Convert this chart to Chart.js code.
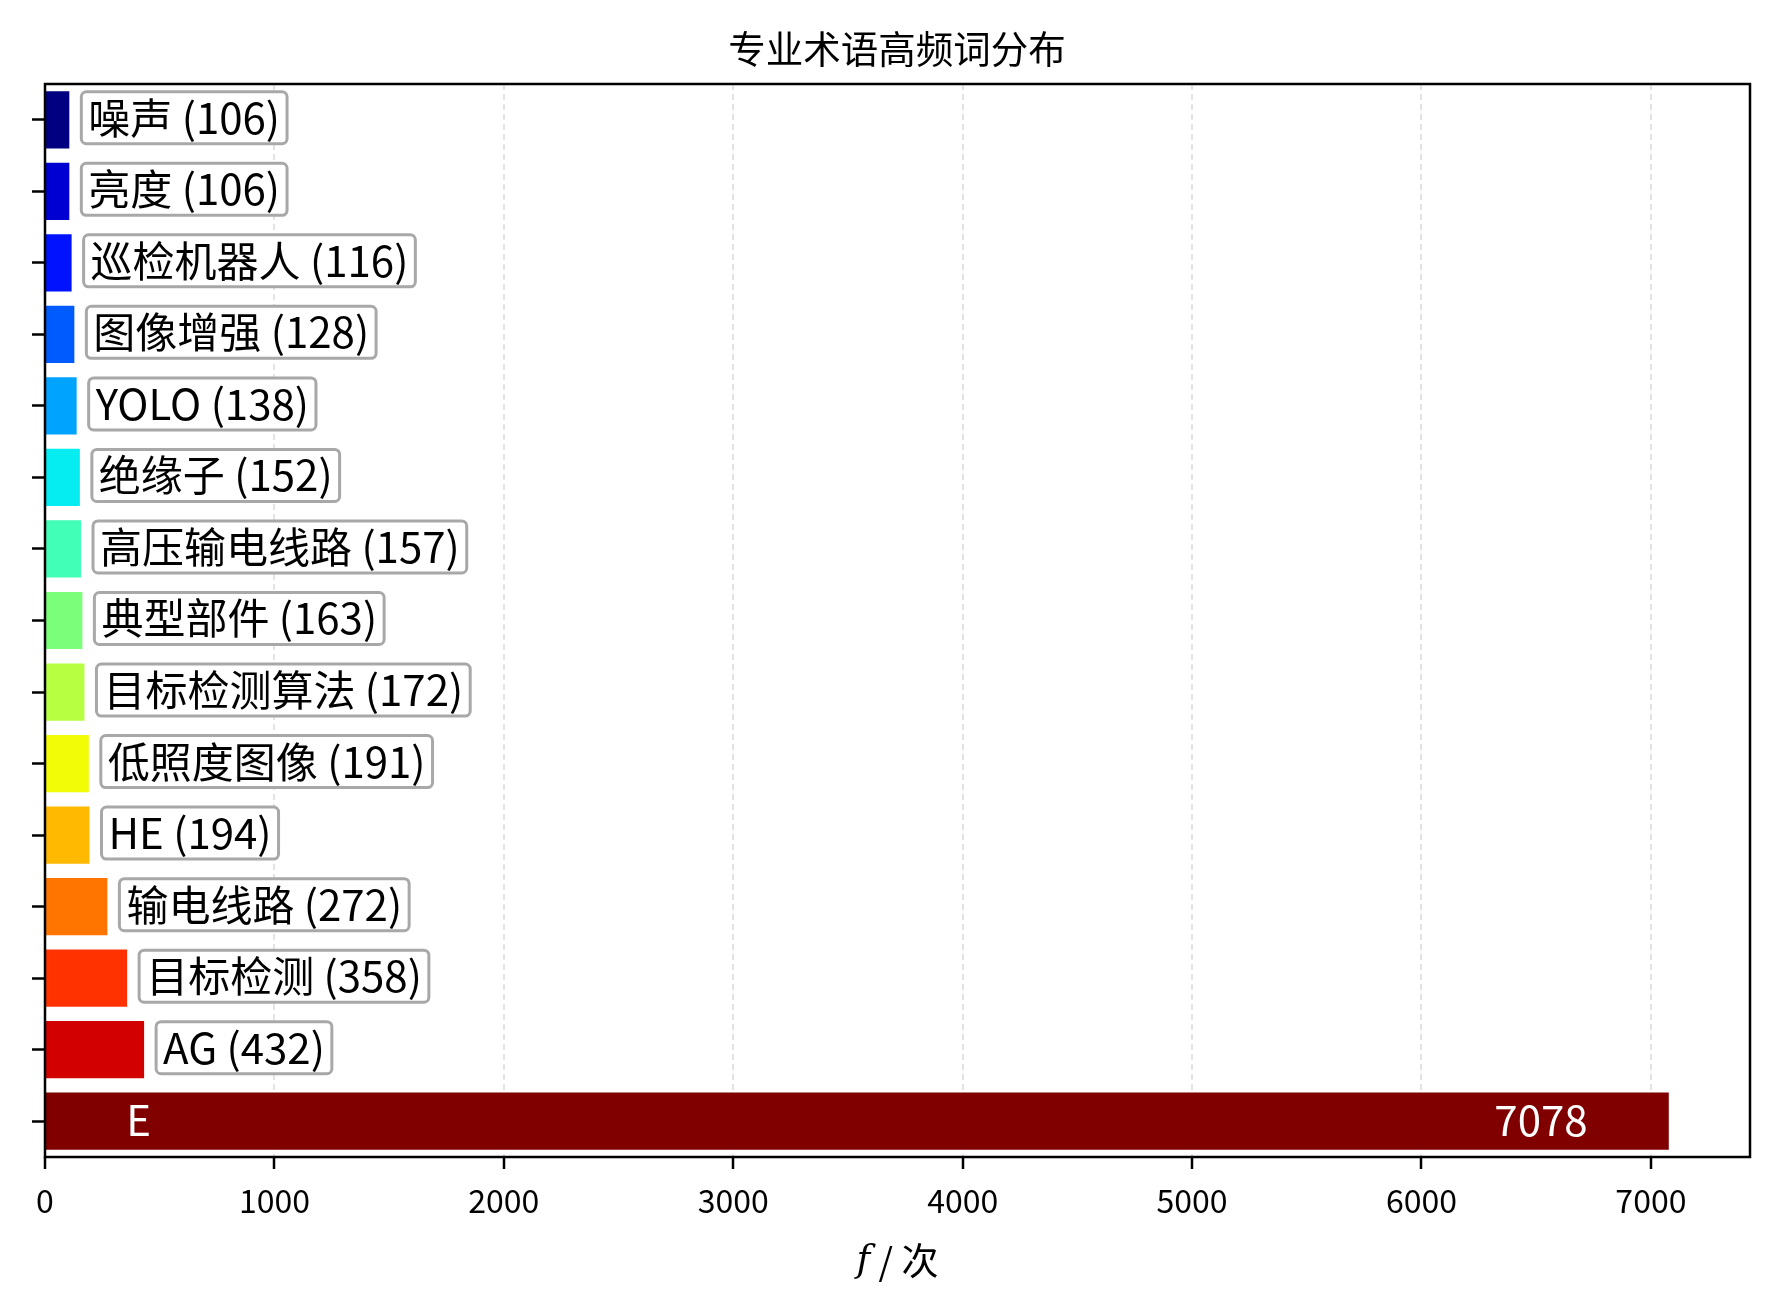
<!DOCTYPE html>
<html>
<head>
<meta charset="utf-8">
<script src="https://cdn.jsdelivr.net/npm/chart.js@4.4.0/dist/chart.umd.min.js"></script>
<style>
  html, body { margin: 0; padding: 0; background: #fff; }
</style>
</head>
<body>
<canvas id="termChart" width="1779" height="1312"></canvas>
<script>
// terms, top to bottom
const terms = ['噪声', '亮度', '巡检机器人', '图像增强', 'YOLO', '绝缘子', '高压输电线路', '典型部件',
               '目标检测算法', '低照度图像', 'HE', '输电线路', '目标检测', 'AG', 'E'];
const counts = [106, 106, 116, 128, 138, 152, 157, 163, 172, 191, 194, 272, 358, 432, 7078];
// jet colormap samples
const barColors = ['#000080', '#0000d2', '#0012ff', '#005bff', '#00a4ff', '#06edf1', '#41ffb6', '#7bff7b',
                   '#b6ff41', '#f1fc06', '#ffb900', '#ff7500', '#ff3200', '#d20000', '#800000'];
const xTicks = [0, 1000, 2000, 3000, 4000, 5000, 6000, 7000];
const xMax = 7432;

const FONT = '"Noto Sans CJK SC", "Noto Sans", sans-serif';

// boxed labels next to bars, and the text inside the long bar
const barLabels = {
    id: 'barLabels',
    afterDatasetsDraw(chart) {
        const ctx = chart.ctx;
        const meta = chart.getDatasetMeta(0);
        const xs = chart.scales.x;
        const last = counts.length - 1;
        ctx.save();
        ctx.font = '42px ' + FONT;
        ctx.textBaseline = 'middle';
        meta.data.forEach((bar, i) => {
            if (i === last) return;
            const txt = terms[i] + ' (' + counts[i] + ')';
            const w = ctx.measureText(txt).width;
            const left = bar.x + 12;
            const h = 52;
            ctx.beginPath();
            ctx.roundRect(left, bar.y - h / 2 - 2, w + 14, h, 5);
            ctx.fillStyle = '#fff';
            ctx.fill();
            ctx.lineWidth = 3;
            ctx.strokeStyle = '#a8a8a8';
            ctx.stroke();
            ctx.fillStyle = '#000';
            ctx.textAlign = 'left';
            ctx.fillText(txt, left + 7, bar.y - 2);
        });
        const big = meta.data[last];
        ctx.fillStyle = '#fff';
        ctx.textAlign = 'left';
        ctx.fillText(terms[last], xs.getPixelForValue(counts[last] * 0.05), big.y - 1);
        ctx.textAlign = 'right';
        ctx.fillText(String(counts[last]), xs.getPixelForValue(counts[last] * 0.95), big.y - 1);
        ctx.restore();
    }
};

// axes frame and x axis label
const frame = {
    id: 'frame',
    afterDraw(chart) {
        const ctx = chart.ctx;
        const a = chart.chartArea;
        ctx.save();
        ctx.lineWidth = 2.5;
        ctx.strokeStyle = '#000';
        ctx.strokeRect(a.left, a.top, a.right - a.left, a.bottom - a.top);

        // "f / 次"
        const y = 1261;
        ctx.textBaseline = 'middle';
        ctx.fillStyle = '#000';
        ctx.font = 'italic 37px "DejaVu Serif", serif';
        const fw = ctx.measureText('f').width;
        ctx.font = '37px ' + FONT;
        const rest = ' / 次';
        const rw = ctx.measureText(rest).width;
        const cx = (a.left + a.right) / 2;
        const x0 = cx - (fw + rw) / 2;
        ctx.textAlign = 'left';
        ctx.font = 'italic 37px "DejaVu Serif", serif';
        ctx.fillText('f', x0, y);
        ctx.font = '37px ' + FONT;
        ctx.fillText(rest, x0 + fw, y);
        ctx.restore();
    }
};

const ctx = document.getElementById('termChart').getContext('2d');
new Chart(ctx, {
    type: 'bar',
    data: {
        labels: terms,
        datasets: [{
            label: '频次',
            data: counts,
            backgroundColor: barColors,
            borderWidth: 0,
            barPercentage: 0.8,
            categoryPercentage: 1.0
        }]
    },
    options: {
        indexAxis: 'y',
        responsive: false,
        animation: false,
        // left padding 44 + 1px y axis keeps the title centred over the plot area
        layout: { padding: { left: 44, right: 29, top: 0, bottom: 0 } },
        plugins: {
            legend: { display: false },
            tooltip: { enabled: false },
            title: {
                display: true,
                text: '专业术语高频词分布',
                color: '#000',
                font: { family: FONT, size: 37.5, weight: 'normal', lineHeight: 1.2 },
                padding: { top: 26, bottom: 13 }
            }
        },
        scales: {
            x: {
                type: 'linear',
                min: 0,
                max: xMax,
                z: 1,
                afterBuildTicks(scale) {
                    scale.ticks = xTicks.map(v => ({ value: v }));
                },
                afterFit(scale) { scale.height = 155; },
                ticks: {
                    color: '#000',
                    padding: 13,
                    font: { family: FONT, size: 32 },
                    maxRotation: 0,
                    callback: v => String(v)
                },
                grid: {
                    color: 'rgba(192,192,192,0.45)',
                    lineWidth: 2,
                    drawTicks: true,
                    tickLength: 12,
                    tickColor: '#000',
                    tickWidth: 2.5
                },
                border: { display: false, dash: [6, 4] }
            },
            y: {
                afterFit(scale) { scale.width = 1; },
                ticks: { display: false },
                grid: {
                    offset: false,
                    drawOnChartArea: false,
                    drawTicks: true,
                    tickLength: 13,
                    tickColor: '#000',
                    tickWidth: 2.5
                },
                border: { display: false }
            }
        }
    },
    plugins: [barLabels, frame]
});
</script>
</body>
</html>
